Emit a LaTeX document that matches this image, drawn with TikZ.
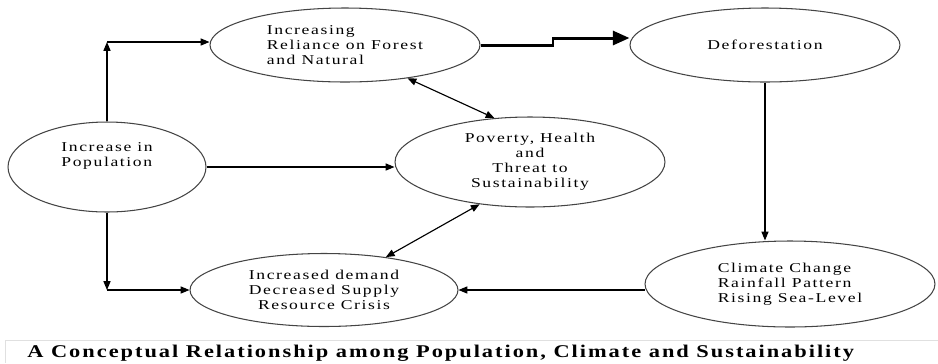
\documentclass[tikz,border=0pt]{standalone}
\usepackage{fontspec}
\usetikzlibrary{arrows.meta,shapes.geometric,positioning}
\newfontfamily\diagfont[FakeStretch=1.3,LetterSpace=12]{Liberation Serif}
\newfontfamily\captfont[FakeStretch=1.25,LetterSpace=11]{Liberation Serif}
\definecolor{elgrey}{HTML}{444444}

\begin{document}
\begin{tikzpicture}[
  x=0.02cm,y=-0.02cm,
  font=\diagfont\fontsize{7.7}{8.5}\selectfont,
  bubble/.style={ellipse,draw=elgrey,line width=0.6pt,inner sep=0pt,align=center},
  link/.style={-{Triangle[length=5pt,width=4pt]},line width=0.65pt},
  twolink/.style={{Triangle[length=5pt,width=4pt]}-{Triangle[length=5pt,width=4pt]},line width=0.65pt},
  biglink/.style={-{Triangle[length=9.5pt,width=8pt]},line width=1.7pt},
  >=Latex]
\useasboundingbox (0,0) rectangle (938,363);
\node[bubble,minimum width=3.96cm,minimum height=1.8cm,align=left] (pop) at (107,167) {Increase in\\Population\\[6pt]~};
\node[bubble,minimum width=5.4cm,minimum height=1.48cm,align=left] (rel) at (345,45) {Increasing\\Reliance on Forest\\and Natural};
\node[bubble,minimum width=5.4cm,minimum height=1.48cm] (def) at (765,45) {Deforestation};
\node[bubble,minimum width=5.4cm,minimum height=1.8cm] (pov) at (530,162) {Poverty, Health\\and\\Threat to\\Sustainability};
\node[bubble,minimum width=5.36cm,minimum height=1.46cm] (dem) at (324,290) {Increased demand\\Decreased Supply\\Resource Crisis};
\node[bubble,minimum width=5.8cm,minimum height=1.72cm,align=left] (cli) at (790,284) {Climate Change\\Rainfall Pattern\\Rising Sea-Level};
\coordinate (up) at (107,42);
\coordinate (dn) at (107,290);
\coordinate (st) at (553,38);
% population branches
\draw[link] (pop.north) -- (up);
\draw[link] (up) -- (up -| rel.west);
\draw[link] (pop.south) -- (dn);
\draw[link] (dn) -- (dem.west);
\draw[link] (pop.east) -- (pop.east -| pov.west);
% forest to climate loop
\draw[biglink] (rel.east) -| (st) -- (st -| def.west);
\draw[link] (def.south) -- (def.south |- cli.north);
\draw[link] (cli.west |- dem.east) -- (dem.east);
\draw[twolink] (rel.-28) -- (pov.129);
\draw[twolink] (pov.-140) -- (dem.28);
% caption
\draw[black!12] (5,363) |- (938,340);
\node[anchor=base west,inner sep=0pt,font=\captfont\bfseries\fontsize{10.2}{12}\selectfont] (cap) at (27,357)
  {A Conceptual Relationship among Population, Climate and Sustainability};
\end{tikzpicture}
\end{document}
